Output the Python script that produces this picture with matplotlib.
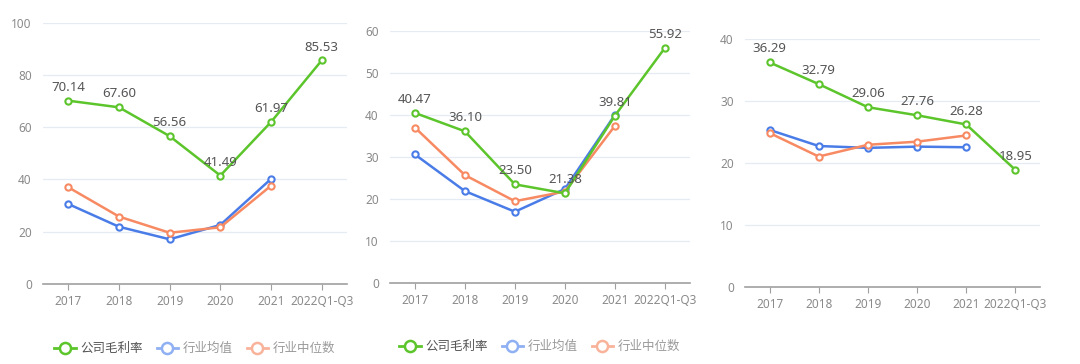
import matplotlib.pyplot as plt
from matplotlib.lines import Line2D

plt.rcParams['font.family'] = ['Noto Sans', 'Noto Sans CJK SC', 'DejaVu Sans']

categories = ['2017', '2018', '2019', '2020', '2021', '2022Q1-Q3']

company_1 = [70.14, 67.60, 56.56, 41.49, 61.97, 85.53]
mean_1 = [30.6, 21.9, 17.1, 22.6, 40.2]
median_1 = [37.0, 25.8, 19.6, 21.7, 37.6]

company_2 = [40.47, 36.10, 23.50, 21.38, 39.81, 55.92]
mean_2 = [30.6, 21.9, 17.0, 22.4, 40.0]
median_2 = [37.0, 25.7, 19.5, 21.8, 37.4]

company_3 = [36.29, 32.79, 29.06, 27.76, 26.28, 18.95]
mean_3 = [25.4, 22.8, 22.5, 22.7, 22.6]
median_3 = [24.9, 21.1, 23.0, 23.5, 24.5]

legend_names = ['公司毛利率', '行业均值', '行业中位数']

GREEN = '#5cc52c'
BLUE = '#4a7ce8'
ORANGE = '#f78a62'

panels = [
    (company_1, mean_1, median_1, [0.0398, 0.2198, 0.2815, 0.718], 100, 20, True),
    (company_2, mean_2, median_2, [0.361, 0.2217, 0.2778, 0.694], 60, 10, True),
    (company_3, mean_3, median_3, [0.6898, 0.2107, 0.2731, 0.681], 40, 10, False),
]

fig = plt.figure(figsize=(10.8, 3.64), dpi=100)

for comp, mean, med, rect, ymax, step, show_legend in panels:
    ax = fig.add_axes(rect)
    x = list(range(len(categories)))
    mk = dict(marker='o', markersize=4.5, markerfacecolor='white', markeredgewidth=1.5, linewidth=1.8)
    ax.plot(x[:len(mean)], mean, color=BLUE, zorder=3, **mk)
    ax.plot(x[:len(med)], med, color=ORANGE, zorder=3, **mk)
    ax.plot(x, comp, color=GREEN, zorder=4, **mk)
    for xi, v in zip(x, comp):
        ax.annotate(f'{v:.2f}', (xi, v), xytext=(0, 5), textcoords='offset points',
                    ha='center', va='bottom', fontsize=9.5, color='#555555', zorder=5)
    ax.set_xlim(-0.5, len(categories) - 0.5)
    ax.set_ylim(0, ymax)
    ax.set_yticks(range(0, ymax + 1, step))
    ax.set_xticks(x)
    ax.set_xticklabels(categories)
    ax.grid(axis='y', color='#e6ebf3', linewidth=0.9)
    ax.set_axisbelow(True)
    for s in ['top', 'right', 'left']:
        ax.spines[s].set_visible(False)
    ax.spines['bottom'].set_color('#a0a0a0')
    ax.spines['bottom'].set_linewidth(1.2)
    ax.tick_params(axis='y', length=0, labelsize=8.5, labelcolor='#8a8a8a', pad=8)
    ax.tick_params(axis='x', length=4, color='#a0a0a0', labelsize=8.5, labelcolor='#8a8a8a', pad=4)
    if show_legend:
        handles = [
            Line2D([], [], color=GREEN, marker='o', markersize=8, markerfacecolor='white', markeredgewidth=1.8, linewidth=2),
            Line2D([], [], color='#8fb0f2', marker='o', markersize=8, markerfacecolor='white', markeredgewidth=1.8, linewidth=2),
            Line2D([], [], color='#f9b39a', marker='o', markersize=8, markerfacecolor='white', markeredgewidth=1.8, linewidth=2),
        ]
        leg = ax.legend(handles, legend_names, loc='upper center', bbox_to_anchor=(0.5, -0.18),
                        ncol=3, frameon=False, fontsize=9, handlelength=1.7,
                        columnspacing=1.1, handletextpad=0.4,
                        prop={'family': ['Noto Sans CJK SC', 'DejaVu Sans'], 'size': 9})
        cols = ['#555555', '#9a9a9a', '#9a9a9a']
        for t, c in zip(leg.get_texts(), cols):
            t.set_color(c)

fig.savefig('out.png', dpi=100, facecolor='white')
